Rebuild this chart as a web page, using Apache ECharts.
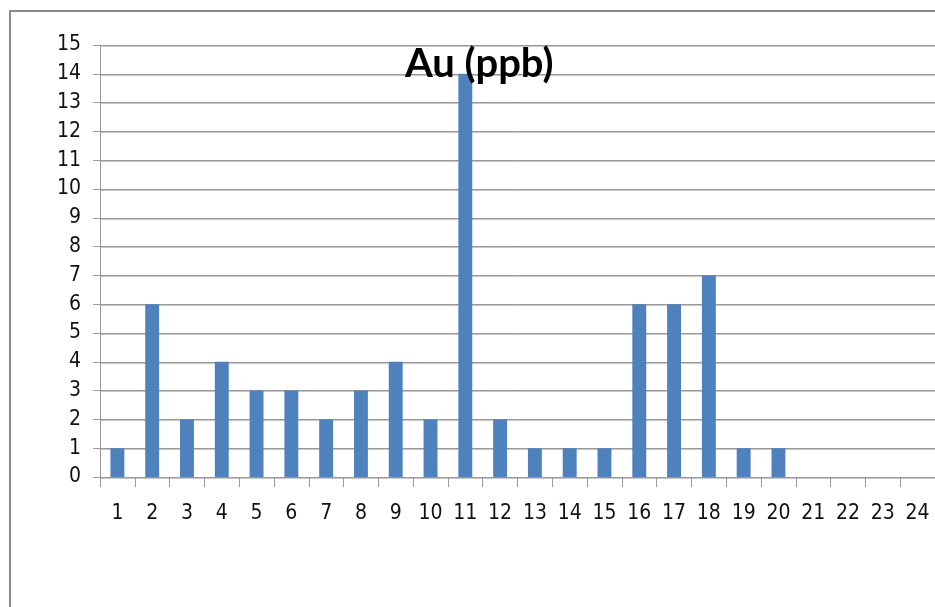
<!DOCTYPE html>
<html>
<head>
<meta charset="utf-8">
<script src="https://cdn.jsdelivr.net/npm/echarts@6/dist/echarts.min.js"></script>
<style>
  html, body { margin: 0; padding: 0; background: #fff; overflow: hidden; }
  #frame {
    position: absolute; left: 9px; top: 10px; width: 940px; height: 610px;
    border-left: 2px solid #8a8a8a; border-top: 2px solid #8a8a8a;
  }
  #chart { position: absolute; left: 0; top: 0; width: 935px; height: 607px; }
</style>
</head>
<body>
<div id="frame"></div>
<div id="chart"></div>
<script>
// Sample numbers along the traverse
const categories = ['1','2','3','4','5','6','7','8','9','10','11','12',
                    '13','14','15','16','17','18','19','20','21','22','23','24'];
// Gold content per sample, ppb (samples 21-24 have no value)
const auValues = [1, 6, 2, 4, 3, 3, 2, 3, 4, 2, 14, 2,
                  1, 1, 1, 6, 6, 7, 1, 1, null, null, null, null];
const yTicks = { min: 0, max: 15, interval: 1 };

const chart = echarts.init(document.getElementById('chart'), null, { renderer: 'canvas' });
const labelFont = '"DejaVu Sans Condensed", "Open Sans", sans-serif';

chart.setOption({
  animation: false,
  backgroundColor: 'transparent',
  title: {
    text: 'Au (ppb)',
    left: 405,
    top: 44,
    padding: 0,
    textStyle: {
      fontFamily: 'Lato, "DejaVu Sans Condensed", sans-serif',
      fontWeight: 'bold',
      fontSize: 40,
      color: '#000'
    }
  },
  // the plot runs a little past the right edge of the canvas
  grid: { left: 100, top: 45, width: 840, bottom: 130, containLabel: false },
  xAxis: {
    type: 'category',
    data: categories,
    boundaryGap: true,
    axisLine: { lineStyle: { color: '#9a9a9a', width: 1 } },
    axisTick: { show: true, length: 10, alignWithLabel: false, lineStyle: { color: '#9a9a9a' } },
    axisLabel: { margin: 26, fontFamily: labelFont, fontSize: 21, color: '#111', interval: 0 },
    splitLine: { show: false }
  },
  yAxis: {
    type: 'value',
    min: yTicks.min,
    max: yTicks.max,
    interval: yTicks.interval,
    axisLine: { show: true, lineStyle: { color: '#9a9a9a', width: 1 } },
    axisTick: { show: true, length: 7, lineStyle: { color: '#9a9a9a' } },
    axisLabel: { margin: 19, fontFamily: labelFont, fontSize: 21, color: '#111' },
    splitLine: {
      show: true,
      lineStyle: { color: '#999', width: 1, shadowColor: '#c8c8c8', shadowOffsetY: 1, shadowBlur: 0 }
    }
  },
  series: [{
    type: 'bar',
    data: auValues,
    barWidth: '40%',
    itemStyle: { color: '#4f81bd' }
  }]
});
</script>
</body>
</html>
